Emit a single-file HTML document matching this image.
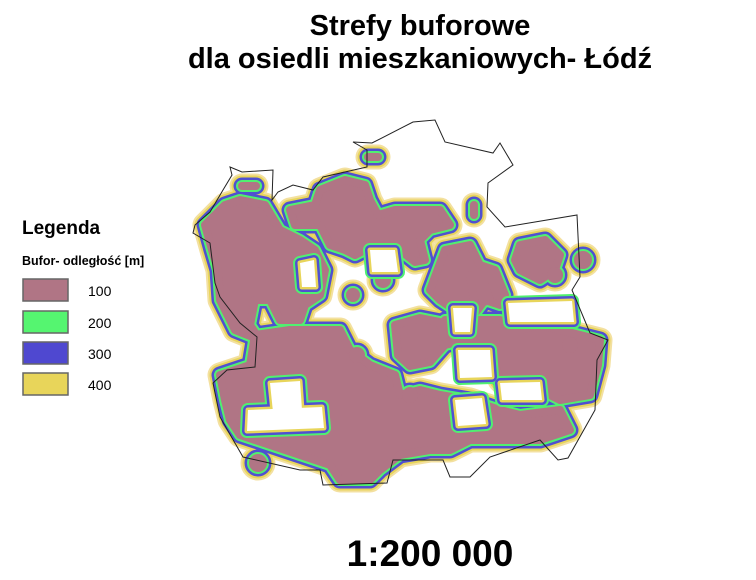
<!DOCTYPE html>
<html><head><meta charset="utf-8"><style>
html,body{margin:0;padding:0;background:#fff;width:756px;height:580px;overflow:hidden}
svg{display:block;font-family:"Liberation Sans",Arial,sans-serif}
</style></head><body>
<svg width="756" height="580" viewBox="0 0 756 580">
<defs>
<g id="blobs">
<polygon points="205,225 225,205 240,200 265,205 280,230 300,240 315,250 325,270 320,295 305,305 300,320 280,320 270,300 255,300 250,325 260,340 235,330 220,300 218,270 212,250"/>
<polygon points="290,210 315,205 320,190 345,180 365,185 370,200 378,215 395,210 440,210 450,225 430,230 420,240 425,260 415,262 400,250 385,245 365,250 355,255 345,250 330,245 320,225 295,225"/>
<polygon points="445,250 470,245 480,265 495,270 505,295 500,305 485,300 470,320 455,310 440,300 430,290"/>
<polygon points="520,245 545,240 560,255 555,270 540,280 520,270 515,260"/>
<polygon points="445,320 470,320 500,320 520,330 540,325 560,330 580,335 600,340 598,365 590,395 560,400 540,390 510,390 500,380 490,350 465,340 445,345"/>
<polygon points="255,335 290,330 320,330 340,330 350,350 370,365 395,375 400,395 420,390 440,395 470,400 500,410 520,415 560,410 570,430 540,440 500,440 470,440 450,450 430,450 400,455 380,470 370,480 340,480 330,465 300,455 270,445 240,435 230,420 225,400 220,375 250,365"/>
<polygon points="395,325 420,318 440,322 445,345 430,362 410,366 398,355"/>
<polygon points="470,275 485,285 490,300 475,305"/>
<polyline points="242,186 256,186"/>
<polyline points="368,157 378,157"/>
<polyline points="474,205 474,215"/>
<circle cx="583" cy="260" r="5"/>
<circle cx="258" cy="463" r="5"/>
<circle cx="383" cy="280" r="4"/>
<circle cx="353" cy="295" r="3"/>
<circle cx="570" cy="345" r="4"/>
<circle cx="357" cy="355" r="4"/>
<circle cx="410" cy="395" r="4"/>
<circle cx="555" cy="275" r="4"/>
</g>
<g id="holes">
<polygon points="270,383 300,381 302,410 273,412"/>
<polygon points="248,410 322,407 324,428 247,431"/>
<polygon points="455,400 482,398 486,424 458,426"/>
<polygon points="458,350 490,350 492,377 460,378"/>
<polygon points="508,303 572,301 574,322 510,322"/>
<polygon points="500,383 540,382 542,400 502,400"/>
<polygon points="300,263 314,260 316,287 302,287"/>
<polygon points="453,308 472,308 470,332 455,332"/>
<polygon points="370,250 395,250 398,272 372,272"/>
</g>
</defs>
<text x="420" y="35" text-anchor="middle" font-size="29" font-weight="bold">Strefy buforowe</text>
<text x="420" y="68" text-anchor="middle" font-size="29" font-weight="bold">dla osiedli mieszkaniowych- Łódź</text>

<g stroke-linejoin="round" stroke-linecap="round">
<use href="#blobs" fill="#f3e0a0" stroke="#f3e0a0" stroke-width="25"/>
<use href="#blobs" fill="#e8d55a" stroke="#e8d55a" stroke-width="21"/>
<use href="#blobs" fill="#5050d0" stroke="#5050d0" stroke-width="17"/>
<use href="#blobs" fill="#50f070" stroke="#50f070" stroke-width="12"/>
<use href="#blobs" fill="#b07585" stroke="#b07585" stroke-width="8"/>
<use href="#holes" fill="#50f070" stroke="#50f070" stroke-width="14"/>
<use href="#holes" fill="#5050d0" stroke="#5050d0" stroke-width="10"/>
<use href="#holes" fill="#e8d55a" stroke="#e8d55a" stroke-width="5"/>
<use href="#holes" fill="#fff" stroke="none"/>
</g>
<polygon fill="none" stroke="#222" stroke-width="1"
points="230,167 242,172 273,170 272,200 278,192 293,185 313,190 323,177 367,167 367,150 353,142 372,143 413,122 435,120 445,142 493,153 500,143 513,165 488,183 487,207 505,227 577,215 580,277 572,290 590,333 608,340 597,360 595,410 568,458 558,460 540,440 490,457 470,477 450,477 443,460 393,460 387,483 323,485 320,470 300,470 243,457 220,417 215,393 213,383 227,370 255,367 257,337 240,323 220,297 215,283 210,243 193,233 195,225 210,212 223,190 232,175"/>

<g>
<text x="22" y="234" font-size="19" font-weight="bold">Legenda</text>
<text x="22" y="265" font-size="12.5" font-weight="bold">Bufor- odległość [m]</text>
<g><rect x="23" y="279" width="45" height="22" fill="#b07585" stroke="#666" stroke-width="1.5"/><text x="88" y="296" font-size="14">100</text></g>
<g><rect x="23" y="311" width="45" height="22" fill="#55f570" stroke="#666" stroke-width="1.5"/><text x="88" y="328" font-size="14">200</text></g>
<g><rect x="23" y="342" width="45" height="22" fill="#4f48d0" stroke="#666" stroke-width="1.5"/><text x="88" y="359" font-size="14">300</text></g>
<g><rect x="23" y="373" width="45" height="22" fill="#e8d55a" stroke="#666" stroke-width="1.5"/><text x="88" y="390" font-size="14">400</text></g>
</g>
<text x="430" y="566" text-anchor="middle" font-size="37" font-weight="bold">1:200 000</text>
</svg>
</body></html>
